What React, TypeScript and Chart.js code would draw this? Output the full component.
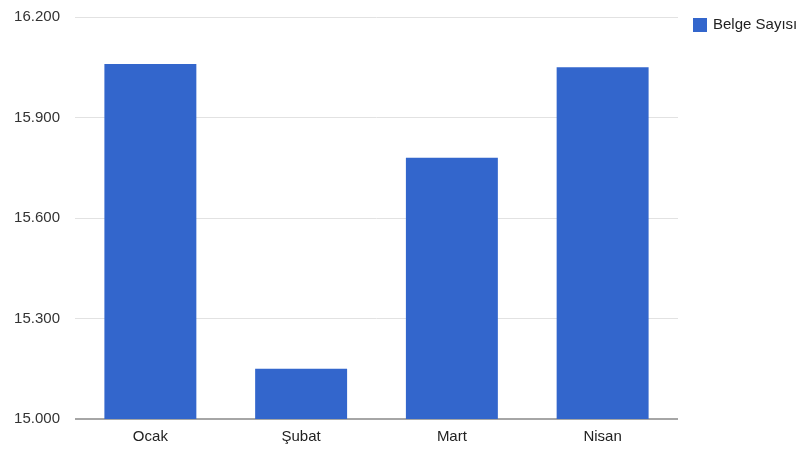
import React, { useEffect, useRef } from "react";
import { Chart, registerables } from "chart.js";

Chart.register(...registerables);

const months = ["Ocak", "Şubat", "Mart", "Nisan"];
const belgeSayisi = [16060, 15150, 15780, 16050];
const seriesLabel = "Belge Sayısı";
const yMin = 15000;
const yMax = 16200;
const yStep = 300;

const BAR_COLOR = "#3366CC";
const FONT = 'Arial, "Liberation Sans", sans-serif';

// Turkish grouping: 16200 -> "16.200"
function formatTr(v: number): string {
  const n = Math.round(v);
  const thousands = Math.floor(n / 1000);
  const rest = String(n % 1000).padStart(3, "0");
  return thousands > 0 ? `${thousands}.${rest}` : String(n);
}

// Legend drawn to the right of the plot area, aligned with its top
const sideLegend = {
  id: "sideLegend",
  afterDraw(chart: Chart) {
    const { ctx, chartArea } = chart;
    const ds = chart.data.datasets[0];
    const x = chartArea.right + 15;
    const y = chartArea.top + 1;
    ctx.save();
    ctx.fillStyle = ds.backgroundColor as string;
    ctx.fillRect(x, y, 14, 14);
    ctx.fillStyle = "#222";
    ctx.font = `15px ${FONT}`;
    ctx.textBaseline = "middle";
    ctx.textAlign = "left";
    ctx.fillText(String(ds.label), x + 20, y + 7);
    ctx.restore();
  },
};

export default function App() {
  const canvasRef = useRef<HTMLCanvasElement | null>(null);

  useEffect(() => {
    document.body.style.margin = "0";
    const canvas = canvasRef.current;
    if (!canvas) return;
    const chart = new Chart(canvas, {
      type: "bar",
      data: {
        labels: months,
        datasets: [
          {
            label: seriesLabel,
            data: belgeSayisi,
            backgroundColor: BAR_COLOR,
            borderWidth: 0,
            categoryPercentage: 1,
            barPercentage: 0.61,
          },
        ],
      },
      options: {
        animation: false,
        responsive: false,
        layout: { padding: { top: 17, right: 124, left: 0, bottom: 0 } },
        plugins: {
          legend: { display: false },
          tooltip: { enabled: false },
        },
        scales: {
          x: {
            grid: { display: false, drawTicks: false },
            border: { display: false },
            ticks: {
              color: "#222",
              font: { family: FONT, size: 15 },
              padding: 9,
            },
            afterFit(scale: any) {
              scale.height = 32;
              scale.paddingLeft = 0;
              scale.paddingRight = 0;
            },
          },
          y: {
            min: yMin,
            max: yMax,
            border: { display: false },
            grid: {
              drawTicks: false,
              color: (c: any) => (c.tick && c.tick.value === yMin ? "#a6a6a6" : "#e2e2e2"),
              lineWidth: (c: any) => (c.tick && c.tick.value === yMin ? 2 : 1),
            },
            ticks: {
              stepSize: yStep,
              color: "#333",
              font: { family: FONT, size: 15 },
              padding: 15,
              callback: (v: any) => formatTr(Number(v)),
            },
            afterFit(scale: any) {
              scale.width = 75;
              scale.paddingTop = 0;
              scale.paddingBottom = 0;
            },
          },
        },
      },
      plugins: [sideLegend],
    });
    return () => chart.destroy();
  }, []);

  return (
    <div style={{ position: "fixed", left: 0, top: 0, width: 802, height: 451, background: "#fff" }}>
      <canvas ref={canvasRef} width={802} height={451} />
    </div>
  );
}
